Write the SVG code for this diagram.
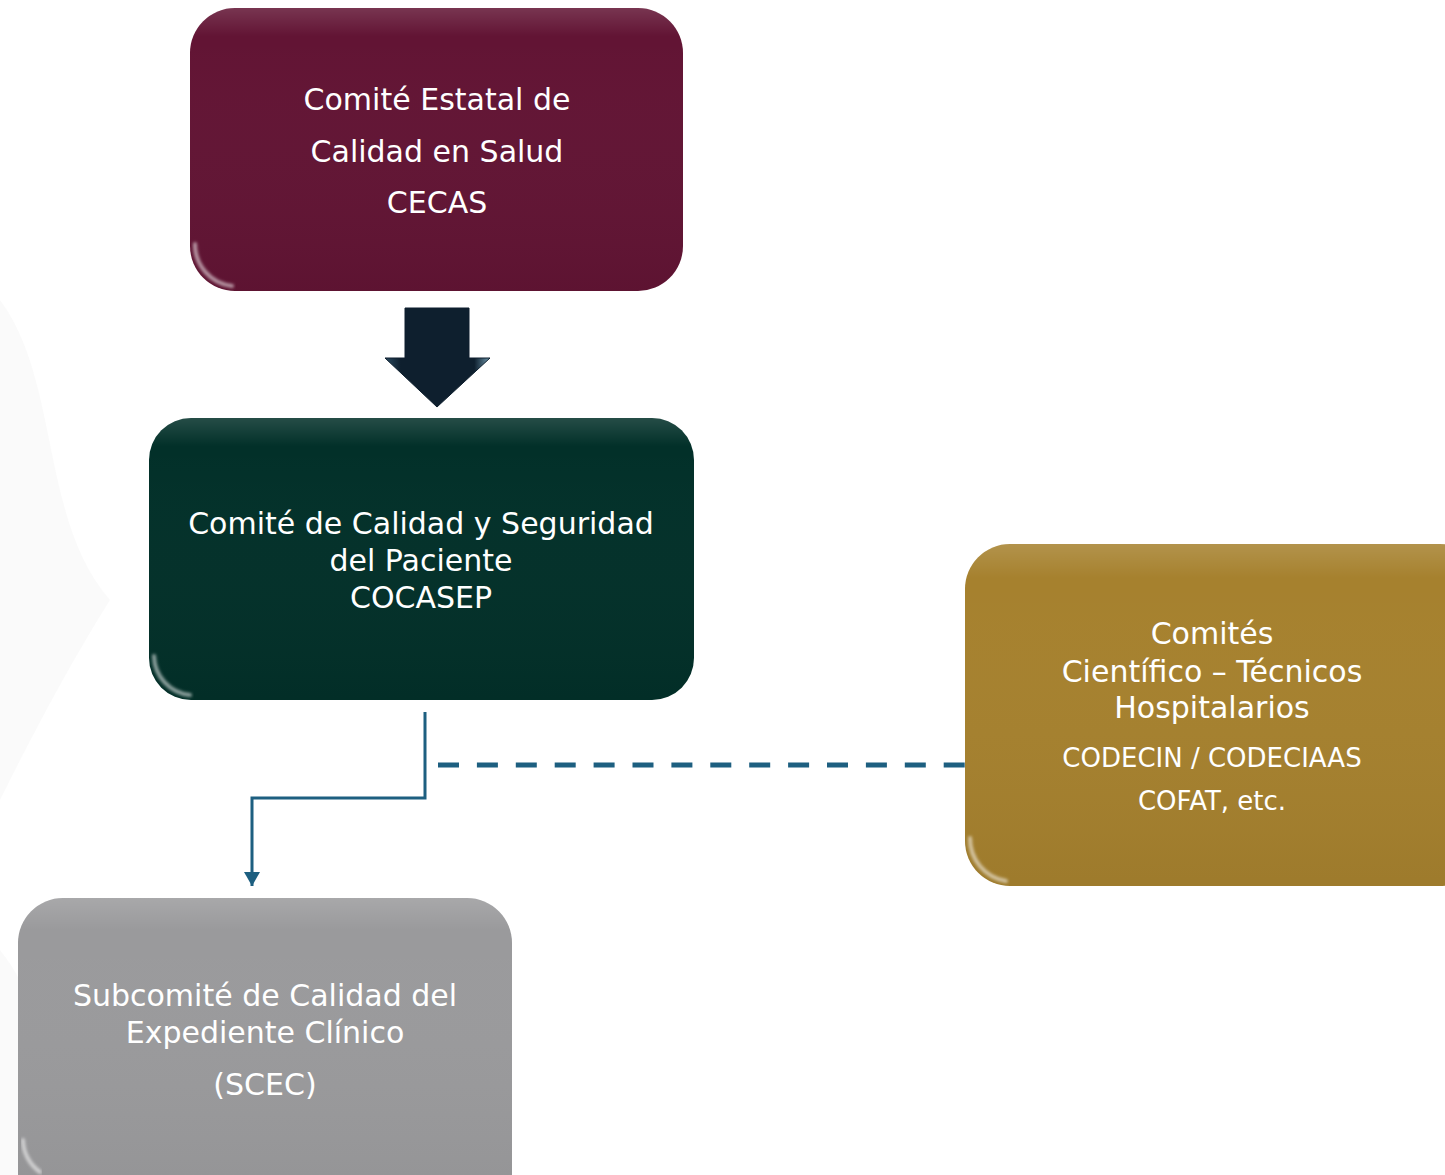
<svg xmlns="http://www.w3.org/2000/svg" width="1445" height="1175" viewBox="0 0 1445 1175">
<defs>
<style>
.t{font-family:"DejaVu Sans","Noto Sans",sans-serif;fill:#ffffff;text-anchor:middle;}
.big{font-size:30px;}
.sm{font-size:26px;}
.conn{fill:none;stroke:#1D5F80;stroke-width:3;}
.dash{fill:none;stroke:#1D5F80;stroke-width:5;stroke-dasharray:21 17.9;}
.hl{fill:none;stroke:#ffffff;stroke-opacity:0.35;stroke-width:5;stroke-linecap:round;filter:url(#soft);}
.hc{fill:none;stroke:#ffffff;stroke-opacity:0.55;stroke-width:4;stroke-linecap:round;filter:url(#soft);}
</style>
<filter id="soft" x="-10%" y="-50%" width="120%" height="200%">
<feGaussianBlur stdDeviation="1.6"/>
</filter>
<linearGradient id="gloss" x1="0" y1="0" x2="0" y2="1">
<stop offset="0" stop-color="#ffffff" stop-opacity="0.14"/>
<stop offset="0.1" stop-color="#ffffff" stop-opacity="0"/>
<stop offset="1" stop-color="#000000" stop-opacity="0.05"/>
</linearGradient>
<linearGradient id="arrowg" x1="0" y1="0" x2="1" y2="0">
<stop offset="0" stop-color="#2a4a60"/>
<stop offset="0.15" stop-color="#0E1F2E"/>
<stop offset="0.85" stop-color="#0E1F2E"/>
<stop offset="1" stop-color="#6f98ad"/>
</linearGradient>
<marker id="ah" viewBox="0 0 14 16" refX="14" refY="8" markerWidth="14" markerHeight="16" markerUnits="userSpaceOnUse" orient="auto">
<path d="M0,0 L14,8 L0,16 Z" fill="#1D5F80"/>
</marker>
</defs>
<rect width="1445" height="1175" fill="#ffffff"/>
<g id="bg" fill="#f4f4f4" opacity="0.45">
<path d="M0,300 C60,380 40,520 110,600 C60,680 20,760 0,800 Z"/>
<path d="M0,950 C40,1000 60,1080 40,1175 L0,1175 Z"/>
</g>

<g id="connectors">
<path class="conn" d="M425,712 L425,798 L252,798 L252,886" marker-end="url(#ah)"/>
<path class="dash" d="M438,765 L965,765"/>
<path id="bigarrow" d="M405,308 L469,308 L469,358 L490,358 L437,407 L385,358 L405,358 Z" fill="url(#arrowg)" stroke="#0E1F2E" stroke-width="1"/>
</g>

<g id="cecas">
<rect x="190" y="8" width="493" height="283" rx="45" fill="#621434"/>
<rect x="190" y="8" width="493" height="283" rx="45" fill="url(#gloss)"/>
<path class="hl" d="M228,17 L645,17"/>
<path class="hc" d="M195,244 A42,42 0 0 0 232,286"/>
<text class="t big" x="437" y="110">Comité Estatal de</text>
<text class="t big" x="437" y="162">Calidad en Salud</text>
<text class="t big" x="437" y="213">CECAS</text>
</g>

<g id="cocasep">
<rect x="149" y="418" width="545" height="282" rx="42" fill="#023029"/>
<rect x="149" y="418" width="545" height="282" rx="42" fill="url(#gloss)"/>
<path class="hl" d="M187,427 L656,427"/>
<path class="hc" d="M154,656 A40,40 0 0 0 190,695"/>
<text class="t big" x="421" y="534">Comité de Calidad y Seguridad</text>
<text class="t big" x="421" y="571">del Paciente</text>
<text class="t big" x="421" y="608">COCASEP</text>
</g>

<g id="comites">
<rect x="965" y="544" width="520" height="342" rx="45" fill="#A6812E"/>
<rect x="965" y="544" width="520" height="342" rx="45" fill="url(#gloss)"/>
<path class="hl" d="M1003,553 L1420,553"/>
<path class="hc" d="M970,838 A43,43 0 0 0 1006,881"/>
<text class="t big" x="1212" y="644">Comités</text>
<text class="t big" x="1212" y="682">Científico – Técnicos</text>
<text class="t big" x="1212" y="718">Hospitalarios</text>
<text class="t sm" x="1212" y="767">CODECIN / CODECIAAS</text>
<text class="t sm" x="1212" y="810">COFAT, etc.</text>
</g>

<g id="scec">
<rect x="18" y="898" width="494" height="320" rx="45" fill="#9A9A9C"/>
<rect x="18" y="898" width="494" height="320" rx="45" fill="url(#gloss)"/>
<path class="hl" d="M56,907 L476,907"/>
<path class="hc" d="M23,1140 A40,40 0 0 0 40,1172"/>
<text class="t big" x="265" y="1006">Subcomité de Calidad del</text>
<text class="t big" x="265" y="1043">Expediente Clínico</text>
<text class="t big" x="265" y="1095">(SCEC)</text>
</g>
</svg>
